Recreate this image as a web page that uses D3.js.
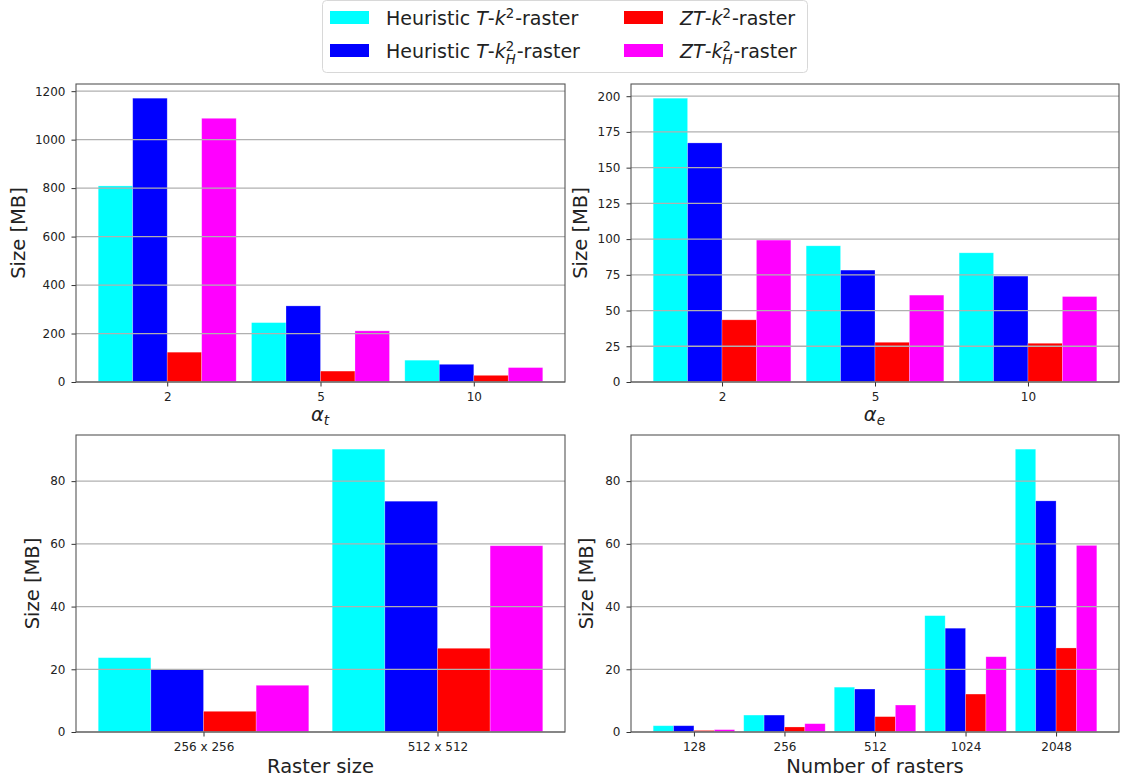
<!DOCTYPE html>
<html>
<head>
<meta charset="utf-8">
<script src="https://cdn.jsdelivr.net/npm/d3@7"></script>
<style>
  body { margin: 0; background: #fff; }
  text { font-family: "DejaVu Sans", sans-serif; fill: #222; }
</style>
</head>
<body>
<div class="vis"></div>
<script>
// series (legend order)
const seriesColors = ['#00ffff', '#0000ff', '#ff0000', '#ff00ff'];

// panel a: alpha_t
const alphaTLabels = ['2', '5', '10'];
const alphaTHeurK2 = [809, 245, 90];
const alphaTHeurK2H = [1171, 314, 73];
const alphaTZtK2 = [123, 45, 27.5];
const alphaTZtK2H = [1088, 211, 59.5];
const alphaTTicks = [0, 200, 400, 600, 800, 1000, 1200];

// panel b: alpha_e
const alphaELabels = ['2', '5', '10'];
const alphaEHeurK2 = [198.6, 95.3, 90.4];
const alphaEHeurK2H = [167.3, 78.3, 74.1];
const alphaEZtK2 = [43.5, 27.8, 27.1];
const alphaEZtK2H = [99.3, 60.8, 59.8];
const alphaETicks = [0, 25, 50, 75, 100, 125, 150, 175, 200];

// panel c: raster size
const sizeLabels = ['256 x 256', '512 x 512'];
const sizeHeurK2 = [23.7, 90.2];
const sizeHeurK2H = [20.0, 73.6];
const sizeZtK2 = [6.6, 26.7];
const sizeZtK2H = [14.9, 59.4];
const sizeTicks = [0, 20, 40, 60, 80];

// panel d: number of rasters
const countLabels = ['128', '256', '512', '1024', '2048'];
const countHeurK2 = [2.0, 5.4, 14.3, 37.1, 90.2];
const countHeurK2H = [2.0, 5.4, 13.7, 33.1, 73.7];
const countZtK2 = [0.5, 1.6, 4.9, 12.1, 26.8];
const countZtK2H = [0.75, 2.65, 8.6, 24.0, 59.5];
const countTicks = [0, 20, 40, 60, 80];

const width = 1121, height = 780;
const svg = d3.select('.vis').append('svg').attr('width', width).attr('height', height);

// draws a mathtext-like label from segments, returns total width
function drawMath(g, segs, size) {
    let x = 0;
    segs.forEach(s => {
        if (s.t !== undefined) {
            const t = g.append('text').attr('x', x).attr('y', 0)
                .style('font-size', size + 'px')
                .style('font-style', s.i ? 'italic' : 'normal')
                .style('white-space', 'pre')
                .text(s.t);
            x += t.node().getComputedTextLength();
        } else {
            // super/subscript stacked in one text element
            const small = size * 0.7;
            const t = g.append('text').style('font-size', small + 'px');
            let w = 0;
            if (s.sup) {
                const sp = t.append('tspan').attr('x', x).attr('y', -size * 0.36).text(s.sup);
                w = Math.max(w, sp.node().getComputedTextLength());
            }
            if (s.sub) {
                const sb = t.append('tspan').attr('x', x).attr('y', size * (s.sup ? 0.32 : 0.2))
                    .style('font-style', 'italic').text(s.sub);
                w = Math.max(w, sb.node().getComputedTextLength());
            }
            x += w + 1;
        }
    });
    return x;
}

const panels = [
    { box: [76, 84, 565, 382], cats: alphaTLabels, vals: [alphaTHeurK2, alphaTHeurK2H, alphaTZtK2, alphaTZtK2H],
      ticks: alphaTTicks, ylabX: 25, xlab: [{ t: 'α', i: true }, { sub: 't' }], xlabY: 421 },
    { box: [631, 84, 1119, 382], cats: alphaELabels, vals: [alphaEHeurK2, alphaEHeurK2H, alphaEZtK2, alphaEZtK2H],
      ticks: alphaETicks, ylabX: 587, xlab: [{ t: 'α', i: true }, { sub: 'e' }], xlabY: 421 },
    { box: [76, 435, 565, 732], cats: sizeLabels, vals: [sizeHeurK2, sizeHeurK2H, sizeZtK2, sizeZtK2H],
      ticks: sizeTicks, ylabX: 39, xlab: [{ t: 'Raster size' }], xlabY: 773 },
    { box: [631, 435, 1119, 732], cats: countLabels, vals: [countHeurK2, countHeurK2H, countZtK2, countZtK2H],
      ticks: countTicks, ylabX: 593, xlab: [{ t: 'Number of rasters' }], xlabY: 773 }
];

const barW = 0.225;

panels.forEach(p => {
    const [x0, y0, x1, y1] = p.box;
    const n = p.cats.length;
    const lo = -2 * barW, hi = n - 1 + 2 * barW;
    const pad = 0.05 * (hi - lo);
    const xScale = d3.scaleLinear().domain([lo - pad, hi + pad]).range([x0, x1]);
    const ymax = d3.max(p.vals.flat()) * 1.05;
    const yScale = d3.scaleLinear().domain([0, ymax]).range([y1, y0]);

    const g = svg.append('g');

    // bars
    p.vals.forEach((vals, j) => {
        g.selectAll(null).data(vals).enter().append('rect')
            .attr('x', (d, i) => xScale(i + (j - 2) * barW))
            .attr('width', xScale(barW) - xScale(0))
            .attr('y', d => yScale(d))
            .attr('height', d => yScale(0) - yScale(d))
            .attr('fill', seriesColors[j])
            .attr('stroke', '#fff').attr('stroke-opacity', 0.35).attr('stroke-width', 0.7);
    });

    // horizontal grid over the bars
    g.selectAll(null).data(p.ticks).enter().append('line')
        .attr('x1', x0).attr('x2', x1)
        .attr('y1', d => yScale(d)).attr('y2', d => yScale(d))
        .attr('stroke', '#b0b0b0').attr('stroke-width', 1.3);

    // axes
    const yAxis = d3.axisLeft(yScale).tickValues(p.ticks).tickFormat(d3.format('d')).tickSize(4.5).tickPadding(6);
    const yG = g.append('g').attr('transform', `translate(${x0},0)`).call(yAxis);
    const xAxis = d3.axisBottom(xScale).tickValues(d3.range(n)).tickFormat(i => p.cats[i]).tickSize(4.5).tickPadding(6);
    const xG = g.append('g').attr('transform', `translate(0,${y1})`).call(xAxis);
    [yG, xG].forEach(a => {
        a.select('.domain').remove();
        a.selectAll('line').attr('stroke', '#333');
        a.selectAll('text').style('font-size', '12px').style('font-family', '"DejaVu Sans", sans-serif').attr('fill', '#222');
    });

    // frame
    g.append('rect').attr('x', x0).attr('y', y0).attr('width', x1 - x0).attr('height', y1 - y0)
        .attr('fill', 'none').attr('stroke', '#555').attr('stroke-width', 1.1);

    // y label
    g.append('text')
        .attr('transform', `translate(${p.ylabX},${(y0 + y1) / 2}) rotate(-90)`)
        .attr('text-anchor', 'middle')
        .style('font-size', '19.5px')
        .text('Size [MB]');

    // x label
    const lab = g.append('g');
    const w = drawMath(lab, p.xlab, 19.5);
    lab.attr('transform', `translate(${(x0 + x1) / 2 - w / 2},${p.xlabY})`);
});

// legend
const legendNames = [
    [{ t: 'Heuristic ' }, { t: 'T', i: true }, { t: '-' }, { t: 'k', i: true }, { sup: '2' }, { t: '-raster' }],
    [{ t: 'Heuristic ' }, { t: 'T', i: true }, { t: '-' }, { t: 'k', i: true }, { sup: '2', sub: 'H' }, { t: '-raster' }],
    [{ t: 'ZT', i: true }, { t: '-' }, { t: 'k', i: true }, { sup: '2' }, { t: '-raster' }],
    [{ t: 'ZT', i: true }, { t: '-' }, { t: 'k', i: true }, { sup: '2', sub: 'H' }, { t: '-raster' }]
];
const legend = svg.append('g');
legend.append('rect').attr('x', 322.5).attr('y', 0.5).attr('width', 485).attr('height', 72)
    .attr('rx', 4).attr('fill', '#fff').attr('stroke', '#d8d8d8');
legendNames.forEach((segs, k) => {
    const col = Math.floor(k / 2), row = k % 2;
    const hx = col === 0 ? 330 : 624;
    const cy = row === 0 ? 17.5 : 50.5;
    legend.append('rect').attr('x', hx).attr('y', cy - 6.5).attr('width', 39).attr('height', 13)
        .attr('fill', seriesColors[k]);
    const t = legend.append('g').attr('transform', `translate(${hx + 56},${cy + 7.5})`);
    drawMath(t, segs, 19);
});
</script>
</body>
</html>
